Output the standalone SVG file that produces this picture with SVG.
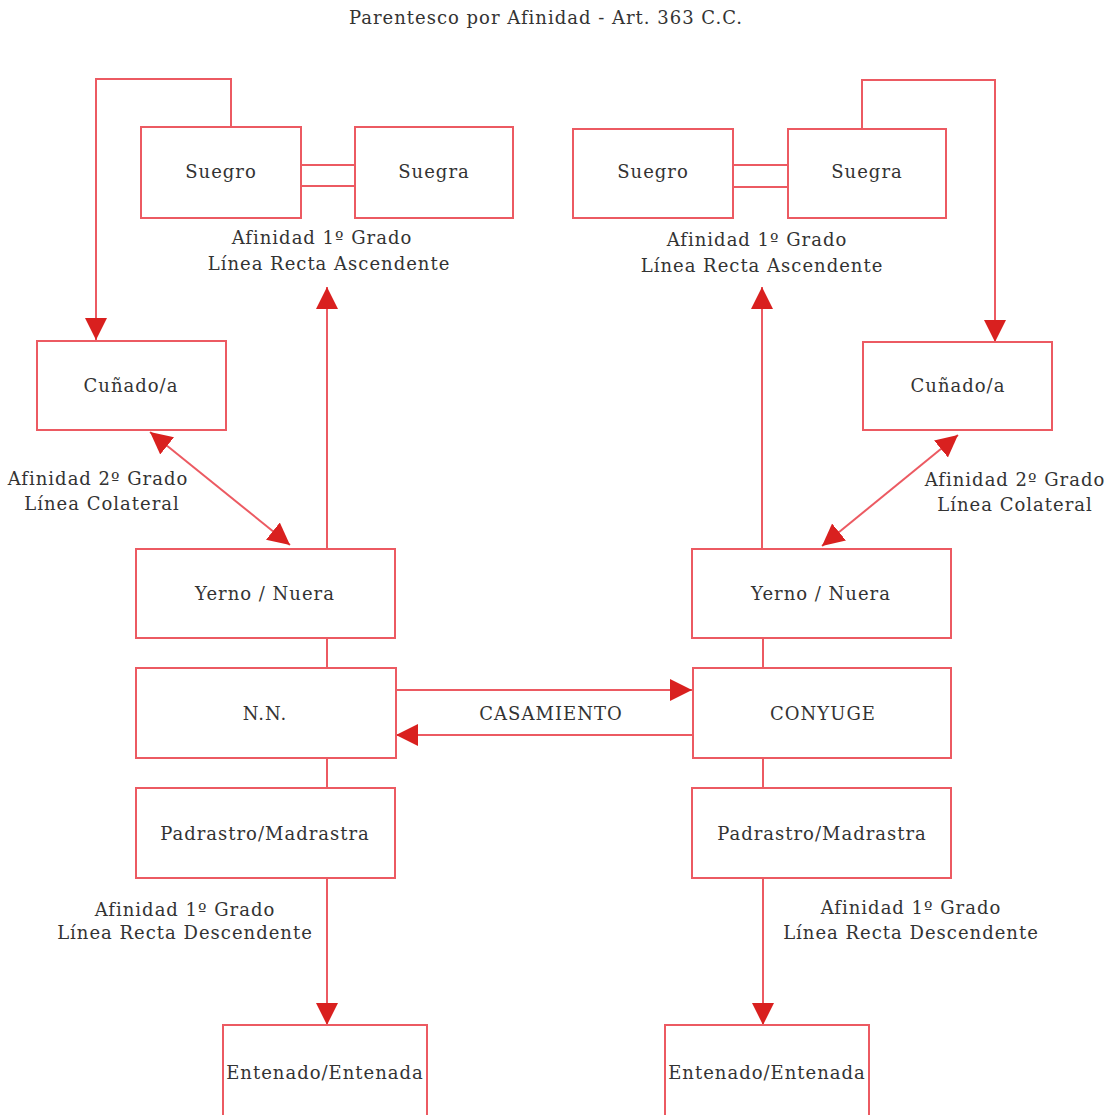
<svg xmlns="http://www.w3.org/2000/svg" width="1114" height="1115" viewBox="0 0 1114 1115">
<defs>
<style>
.box{fill:#fff;stroke:#ec5a62;stroke-width:2}
.ln{fill:none;stroke:#ec5a62;stroke-width:2}
text{font-family:"DejaVu Serif","Liberation Serif",serif;font-size:18px;letter-spacing:1px;fill:#333;text-anchor:middle}
</style>
<marker id="ah" markerUnits="userSpaceOnUse" markerWidth="24" markerHeight="24" viewBox="0 0 24 24" refX="22" refY="12" orient="auto-start-reverse">
<path d="M0,1 L22,12 L0,23 Z" fill="#d9201f"/>
</marker>
</defs>
<rect width="1114" height="1115" fill="#fff"/>
<text x="546" y="24">Parentesco por Afinidad - Art. 363 C.C.</text>

<g id="connectors">
<path class="ln" d="M231,127 V79 H96 V340" marker-end="url(#ah)"/>
<path class="ln" d="M862,129 V80 H995 V342" marker-end="url(#ah)"/>
<path class="ln" d="M301,165 H355 M301,186 H355"/>
<path class="ln" d="M733,165 H788 M733,187 H788"/>
<path class="ln" d="M150,432 L290,545" marker-start="url(#ah)" marker-end="url(#ah)"/>
<path class="ln" d="M958,435 L822,546" marker-start="url(#ah)" marker-end="url(#ah)"/>
<path class="ln" d="M327,549 V287" marker-end="url(#ah)"/>
<path class="ln" d="M762,549 V287" marker-end="url(#ah)"/>
<path class="ln" d="M327,638 V668 M327,758 V788"/>
<path class="ln" d="M763,638 V668 M763,758 V788"/>
<path class="ln" d="M396,690 H692" marker-end="url(#ah)"/>
<path class="ln" d="M692,735 H396" marker-end="url(#ah)"/>
<path class="ln" d="M327,878 V1025" marker-end="url(#ah)"/>
<path class="ln" d="M763,878 V1025" marker-end="url(#ah)"/>
</g>

<g id="suegro-l"><rect class="box" x="141" y="127" width="160" height="91"/><text x="221" y="178">Suegro</text></g>
<g id="suegra-l"><rect class="box" x="355" y="127" width="158" height="91"/><text x="434" y="178">Suegra</text></g>
<g id="suegro-r"><rect class="box" x="573" y="129" width="160" height="89"/><text x="653" y="178">Suegro</text></g>
<g id="suegra-r"><rect class="box" x="788" y="129" width="158" height="89"/><text x="867" y="178">Suegra</text></g>

<g id="lbl-asc-l"><text x="322" y="244">Afinidad 1º Grado</text><text x="329" y="270">Línea Recta Ascendente</text></g>
<g id="lbl-asc-r"><text x="757" y="246">Afinidad 1º Grado</text><text x="762" y="272">Línea Recta Ascendente</text></g>

<g id="cunado-l"><rect class="box" x="37" y="341" width="189" height="89"/><text x="131" y="392">Cuñado/a</text></g>
<g id="cunado-r"><rect class="box" x="863" y="342" width="189" height="88"/><text x="958" y="392">Cuñado/a</text></g>

<g id="lbl-col-l"><text x="98" y="485">Afinidad 2º Grado</text><text x="102" y="510">Línea Colateral</text></g>
<g id="lbl-col-r"><text x="1015" y="486">Afinidad 2º Grado</text><text x="1015" y="511">Línea Colateral</text></g>

<g id="yerno-l"><rect class="box" x="136" y="549" width="259" height="89"/><text x="265" y="600">Yerno / Nuera</text></g>
<g id="yerno-r"><rect class="box" x="692" y="549" width="259" height="89"/><text x="821" y="600">Yerno / Nuera</text></g>

<g id="nn"><rect class="box" x="136" y="668" width="260" height="90"/><text x="265" y="720">N.N.</text></g>
<g id="conyuge"><rect class="box" x="693" y="668" width="258" height="90"/><text x="823" y="720">CONYUGE</text></g>
<g id="lbl-cas"><text x="551" y="720">CASAMIENTO</text></g>

<g id="padr-l"><rect class="box" x="136" y="788" width="259" height="90"/><text x="265" y="840">Padrastro/Madrastra</text></g>
<g id="padr-r"><rect class="box" x="692" y="788" width="259" height="90"/><text x="822" y="840">Padrastro/Madrastra</text></g>

<g id="lbl-desc-l"><text x="185" y="916">Afinidad 1º Grado</text><text x="185" y="939">Línea Recta Descendente</text></g>
<g id="lbl-desc-r"><text x="911" y="914">Afinidad 1º Grado</text><text x="911" y="939">Línea Recta Descendente</text></g>

<g id="entenado-l"><rect class="box" x="223" y="1025" width="204" height="100"/><text x="325" y="1079">Entenado/Entenada</text></g>
<g id="entenado-r"><rect class="box" x="665" y="1025" width="204" height="100"/><text x="767" y="1079">Entenado/Entenada</text></g>
</svg>
